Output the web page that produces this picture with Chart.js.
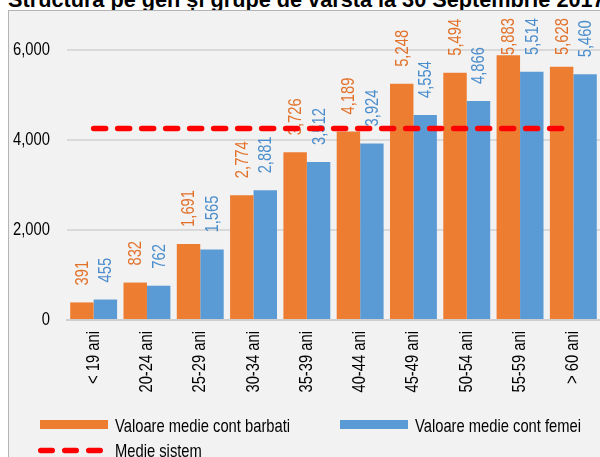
<!DOCTYPE html>
<html>
<head>
<meta charset="utf-8">
<script src="https://cdn.jsdelivr.net/npm/chart.js@4.4.1/dist/chart.umd.min.js"></script>
<style>
  html, body { margin: 0; padding: 0; background: #fff; }
  #wrap { position: relative; width: 600px; height: 457px; overflow: hidden; }
  #panel { position: absolute; left: 8px; top: 10px; width: 620px; height: 470px; background: #f2f2f2;
           border-left: 1px solid #b4b4b4; border-top: 1px solid #b4b4b4; }
  #title, #legend, canvas { position: absolute; left: 0; }
  #title { top: 0; }
  #legend { top: 400px; }
  canvas { top: 0; }
</style>
</head>
<body>
<div id="wrap">
  <svg id="title" width="600" height="12">
    <text x="8" y="6.5" font-family="Liberation Sans, Arial, sans-serif" font-weight="bold" font-size="21.7">Structura pe gen și grupe de varsta la 30 Septembrie 2017</text>
  </svg>
  <div id="panel"></div>
  <canvas id="grafic" width="600" height="457"></canvas>
  <!-- textul e comprimat pe orizontala ca sa imite Arial Narrow -->
  <svg id="legend" width="600" height="57" font-family="Liberation Sans, Arial, sans-serif" font-size="18">
    <rect x="40" y="20" width="68" height="9" fill="#ED7D31"></rect>
    <text transform="translate(115 31.5) scale(0.82 1)">Valoare medie cont barbati</text>
    <rect x="340" y="20" width="68" height="9" fill="#5B9BD5"></rect>
    <text transform="translate(415 31.5) scale(0.82 1)">Valoare medie cont femei</text>
    <line x1="40.75" y1="50.5" x2="100.25" y2="50.5" stroke="#FF0000" stroke-width="5.5" stroke-dasharray="11.5 12.5" stroke-linecap="round"></line>
    <text transform="translate(115 56.5) scale(0.82 1)">Medie sistem</text>
  </svg>
</div>
<script>
// grupe de varsta
const categorii = ['< 19 ani', '20-24 ani', '25-29 ani', '30-34 ani', '35-39 ani',
                   '40-44 ani', '45-49 ani', '50-54 ani', '55-59 ani', '> 60 ani'];
const barbati = [391, 832, 1691, 2774, 3726, 4189, 5248, 5494, 5883, 5628];
const femei = [455, 762, 1565, 2881, 3512, 3924, 4554, 4866, 5514, 5460];
const medieSistem = [4255, 4255, 4255, 4255, 4255, 4255, 4255, 4255, 4255, 4255];
const yTicks = [0, 2000, 4000, 6000];

const FONT = "'Liberation Sans', Arial, sans-serif";
const NARROW = 0.82; // nu exista Arial Narrow aici, deci comprimam textul

const ctx = document.getElementById('grafic').getContext('2d');

// fillText comprimat pe directia textului (merge si pentru textul rotit)
const fillTextOrig = ctx.fillText.bind(ctx);
ctx.fillText = function (t, x, y) {
  this.save();
  this.translate(x, y);
  this.scale(NARROW, 1);
  fillTextOrig(t, 0, 0);
  this.restore();
};

// etichete rotite deasupra barelor (desenate inainte de linia rosie)
const eticheteValori = {
  id: 'eticheteValori',
  afterDatasetDraw(chart, args) {
    const meta = args.meta;
    if (meta.type !== 'bar') return;
    const ds = chart.data.datasets[args.index];
    const c = chart.ctx;
    c.save();
    c.font = '18px ' + FONT;
    c.fillStyle = ds.labelColor;
    c.textAlign = 'left';
    c.textBaseline = 'middle';
    meta.data.forEach((bar, i) => {
      const txt = ds.data[i].toLocaleString('en-US');
      const w = c.measureText(txt).width * NARROW;
      let jos = bar.y - 17;
      if (jos - w < 18) jos = 18 + w;
      c.save();
      c.translate(bar.x + 1, jos);
      c.rotate(-Math.PI / 2);
      c.fillText(txt, 0, 0);
      c.restore();
    });
    c.restore();
  }
};

window.grafic = new Chart(ctx, {
  data: {
    labels: categorii,
    datasets: [
      {
        type: 'line',
        label: 'Medie sistem',
        data: medieSistem,
        borderColor: '#FF0000',
        borderWidth: 5.5,
        borderDash: [12, 12],
        borderCapStyle: 'round',
        pointRadius: 0,
        fill: false,
        order: 0
      },
      {
        type: 'bar',
        label: 'Valoare medie cont barbati',
        data: barbati,
        backgroundColor: '#ED7D31',
        labelColor: '#E2712A',
        order: 1
      },
      {
        type: 'bar',
        label: 'Valoare medie cont femei',
        data: femei,
        backgroundColor: '#5B9BD5',
        labelColor: '#4B8DCC',
        order: 1
      }
    ]
  },
  options: {
    responsive: false,
    animation: false,
    devicePixelRatio: 1,
    layout: { padding: { top: 50, right: 0, bottom: 37, left: 0 } },
    plugins: { legend: { display: false }, tooltip: { enabled: false } },
    datasets: { bar: { categoryPercentage: 0.88, barPercentage: 1 } },
    scales: {
      x: {
        grid: { display: false, drawTicks: false },
        border: { display: true, color: '#cfcfcf', width: 2 },
        ticks: {
          color: '#000',
          font: { family: FONT, size: 18 },
          minRotation: 90,
          maxRotation: 90,
          autoSkip: false,
          padding: 11
        },
        afterFit(s) { s.height = 100; s.paddingLeft = 0; s.paddingRight = 0; }
      },
      y: {
        min: 0,
        max: 6000,
        afterBuildTicks(s) { s.ticks = yTicks.map(v => ({ value: v })); },
        ticks: {
          color: '#000',
          font: { family: FONT, size: 18 },
          padding: 17,
          callback: v => v.toLocaleString('en-US')
        },
        grid: { color: '#d9d9d9', lineWidth: 2, drawTicks: false },
        border: { display: false },
        afterFit(s) { s.width = 67; s.paddingTop = 0; s.paddingBottom = 0; }
      }
    }
  },
  plugins: [eticheteValori]
});
</script>
</body>
</html>
